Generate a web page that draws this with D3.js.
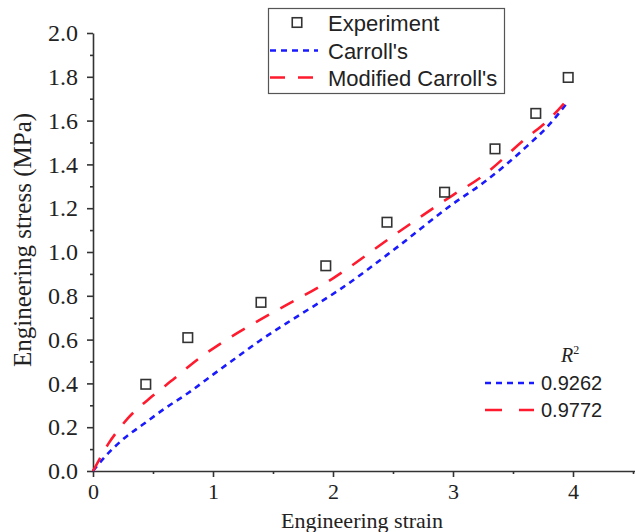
<!DOCTYPE html>
<html>
<head>
<meta charset="utf-8">
<script src="https://cdn.jsdelivr.net/npm/d3@7"></script>
<style>
  html, body { margin: 0; padding: 0; background: #fff; }
  svg { display: block; }
</style>
</head>
<body>
<svg id="chart" width="635" height="532"></svg>
<script>
// values
const expStrain = [0.44, 0.79, 1.40, 1.94, 2.45, 2.93, 3.35, 3.69, 3.96];
const expStress = [0.396, 0.609, 0.770, 0.937, 1.136, 1.273, 1.471, 1.633, 1.797];

const carrollStrain = [0, 0.10, 0.24, 0.43, 0.60, 0.79, 1.00, 1.20, 1.39, 1.70, 2.06, 2.53, 3.00, 3.25, 3.61, 3.80, 3.95];
const carrollStress = [0, 0.065, 0.140, 0.218, 0.286, 0.355, 0.440, 0.520, 0.595, 0.705, 0.830, 1.020, 1.220, 1.315, 1.480, 1.580, 1.680];

const modStrain = [0, 0.05, 0.13, 0.21, 0.29, 0.49, 0.68, 0.85, 1.10, 1.39, 2.00, 2.53, 3.00, 3.23, 3.61, 3.79, 3.96];
const modStress = [0, 0.050, 0.126, 0.187, 0.240, 0.340, 0.423, 0.500, 0.595, 0.690, 0.880, 1.085, 1.260, 1.340, 1.520, 1.600, 1.700];

const xTicks = [0, 1, 2, 3, 4];
const xMinor = [0.5, 1.5, 2.5, 3.5, 4.5];
const yTicks = [0, 0.2, 0.4, 0.6, 0.8, 1.0, 1.2, 1.4, 1.6, 1.8, 2.0];
const yMinor = [0.1, 0.3, 0.5, 0.7, 0.9, 1.1, 1.3, 1.5, 1.7, 1.9];

const legendLabels = ["Experiment", "Carroll's", "Modified Carroll's"];
const r2Values = ["0.9262", "0.9772"];

const svg = d3.select("#chart");

const x = d3.scaleLinear().domain([0, 4.6]).range([93, 645]);
const y = d3.scaleLinear().domain([0, 2.0]).range([471, 33]);

const axisColor = "#333";
const blue = "#1a1aff";
const red = "#ff1a2e";
const blueDash = "6,5";
const redDash = "15,13";

// axes
const xAxis = svg.append("g")
  .attr("transform", `translate(0,${y(0)})`)
  .call(d3.axisBottom(x).tickValues(xTicks).tickFormat(d3.format("d")).tickSize(6).tickSizeOuter(0).tickPadding(6));

svg.append("g")
  .attr("transform", `translate(0,${y(0)})`)
  .call(d3.axisBottom(x).tickValues(xMinor).tickFormat("").tickSize(3).tickSizeOuter(0))
  .select(".domain").remove();

const yAxis = svg.append("g")
  .attr("transform", `translate(${x(0)},0)`)
  .call(d3.axisLeft(y).tickValues(yTicks).tickFormat(d3.format(".1f")).tickSize(6).tickSizeOuter(0).tickPadding(9));

svg.append("g")
  .attr("transform", `translate(${x(0)},0)`)
  .call(d3.axisLeft(y).tickValues(yMinor).tickFormat("").tickSize(3).tickSizeOuter(0))
  .select(".domain").remove();

svg.selectAll(".domain, .tick line")
  .attr("stroke", axisColor)
  .attr("stroke-width", 1.6);

xAxis.selectAll("text")
  .attr("fill", "#222")
  .style("font-family", "'Liberation Serif', 'Times New Roman', serif")
  .style("font-size", "22px");

yAxis.selectAll("text")
  .attr("fill", "#222")
  .style("font-family", "'Liberation Serif', 'Times New Roman', serif")
  .style("font-size", "24px");

// axis titles
svg.append("text")
  .attr("x", 362)
  .attr("y", 528)
  .attr("text-anchor", "middle")
  .attr("fill", "#222")
  .style("font-family", "'Liberation Serif', 'Times New Roman', serif")
  .style("font-size", "22px")
  .text("Engineering strain");

svg.append("text")
  .attr("transform", "translate(31,240) rotate(-90)")
  .attr("text-anchor", "middle")
  .attr("fill", "#222")
  .style("font-family", "'Liberation Serif', 'Times New Roman', serif")
  .style("font-size", "25px")
  .text("Engineering stress (MPa)");

// model curves
const line = d3.line()
  .x((d) => x(d[0]))
  .y((d) => y(d[1]))
  .curve(d3.curveMonotoneX);

svg.append("path")
  .datum(carrollStrain.map((s, i) => [s, carrollStress[i]]))
  .attr("fill", "none")
  .attr("stroke", blue)
  .attr("stroke-width", 2.6)
  .attr("stroke-dasharray", blueDash)
  .attr("d", line);

svg.append("path")
  .datum(modStrain.map((s, i) => [s, modStress[i]]))
  .attr("fill", "none")
  .attr("stroke", red)
  .attr("stroke-width", 2.6)
  .attr("stroke-dasharray", redDash)
  .attr("d", line);

// experiment markers
const side = 9.5;
svg.append("g")
  .selectAll("rect")
  .data(expStrain.map((s, i) => [s, expStress[i]]))
  .join("rect")
  .attr("x", (d) => x(d[0]) - side / 2)
  .attr("y", (d) => y(d[1]) - side / 2)
  .attr("width", side)
  .attr("height", side)
  .attr("fill", "none")
  .attr("stroke", "#333")
  .attr("stroke-width", 1.6);

// legend box
const legend = svg.append("g");
legend.append("rect")
  .attr("x", 268.5)
  .attr("y", 8.5)
  .attr("width", 236)
  .attr("height", 85)
  .attr("fill", "#fff")
  .attr("stroke", "#555")
  .attr("stroke-width", 1.2);

const rowY = [22.5, 50.5, 77.5];
legend.append("rect")
  .attr("x", 297 - side / 2)
  .attr("y", rowY[0] - side / 2)
  .attr("width", side)
  .attr("height", side)
  .attr("fill", "none")
  .attr("stroke", "#333")
  .attr("stroke-width", 1.6);

legend.append("line")
  .attr("x1", 270).attr("x2", 318)
  .attr("y1", rowY[1]).attr("y2", rowY[1])
  .attr("stroke", blue)
  .attr("stroke-width", 2.6)
  .attr("stroke-dasharray", blueDash);

legend.append("line")
  .attr("x1", 270).attr("x2", 318)
  .attr("y1", rowY[2]).attr("y2", rowY[2])
  .attr("stroke", red)
  .attr("stroke-width", 2.6)
  .attr("stroke-dasharray", redDash);

legend.selectAll("text.label")
  .data(legendLabels)
  .join("text")
  .attr("class", "label")
  .attr("x", 328)
  .attr("y", (d, i) => rowY[i] + 8)
  .attr("fill", "#222")
  .style("font-family", "'Liberation Sans', Arial, sans-serif")
  .style("font-size", "22px")
  .text((d) => d);

// R² legend
const r2 = svg.append("g");
const r2Text = r2.append("text")
  .attr("x", 561)
  .attr("y", 362)
  .attr("fill", "#222")
  .style("font-family", "'Liberation Serif', 'Times New Roman', serif")
  .style("font-size", "20px");
r2Text.append("tspan").style("font-style", "italic").text("R");
r2Text.append("tspan").attr("dy", -8).style("font-size", "12px").text("2");

const r2RowY = [383, 410];
r2.append("line")
  .attr("x1", 485).attr("x2", 534)
  .attr("y1", r2RowY[0]).attr("y2", r2RowY[0])
  .attr("stroke", blue)
  .attr("stroke-width", 2.6)
  .attr("stroke-dasharray", blueDash);

r2.append("line")
  .attr("x1", 485).attr("x2", 534)
  .attr("y1", r2RowY[1]).attr("y2", r2RowY[1])
  .attr("stroke", red)
  .attr("stroke-width", 2.6)
  .attr("stroke-dasharray", "17,17");

r2.selectAll("text.val")
  .data(r2Values)
  .join("text")
  .attr("class", "val")
  .attr("x", 541)
  .attr("y", (d, i) => r2RowY[i] + 7)
  .attr("fill", "#222")
  .style("font-family", "'Liberation Serif', 'Times New Roman', serif")
  .style("font-family", "'Liberation Sans', Arial, sans-serif")
  .style("font-size", "20px")
  .text((d) => d);
</script>
</body>
</html>
